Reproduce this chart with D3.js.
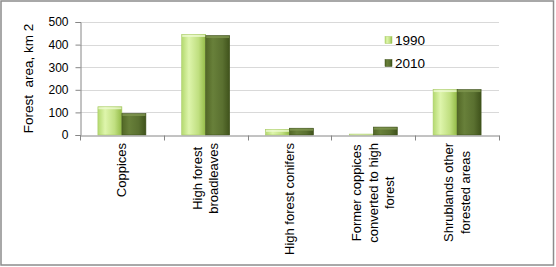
<!DOCTYPE html>
<html><head><meta charset="utf-8">
<script src="https://cdn.jsdelivr.net/npm/d3@7"></script>
<style>
html,body{margin:0;padding:0;background:#fff;}
svg{display:block;font-family:"Liberation Sans",Arial,sans-serif;}
</style></head>
<body>
<svg id="c" width="556" height="267"></svg>
<script>
const categories = [
  ["Coppices"],
  ["High forest", "broadleaves"],
  ["High forest conifers"],
  ["Former coppices", "converted to high", "forest"],
  ["Shrublands other", "forested areas"]
];
const seriesNames = ["1990", "2010"];
const values1990 = [125, 445, 25, 4, 201];
const values2010 = [95, 440, 30, 35, 201];
const yTicks = [0, 100, 200, 300, 400, 500];
const yLabel = "Forest\u00a0\u00a0area, km 2";

const svg = d3.select("#c");
const W = 556, H = 267;
const m = {l: 80, r: 57, t: 22, b: 132};
const catKeys = categories.map(c => c.join(" "));

// Gradients
const defs = svg.append("defs");
const g1 = defs.append("linearGradient").attr("id", "g1990").attr("x1", 0).attr("x2", 1).attr("y1", 0).attr("y2", 0);
g1.append("stop").attr("offset", 0).attr("stop-color", "#b4d970");
g1.append("stop").attr("offset", 0.3).attr("stop-color", "#def5ac");
g1.append("stop").attr("offset", 0.7).attr("stop-color", "#c0df80");
g1.append("stop").attr("offset", 1).attr("stop-color", "#93ba46");
const g2 = defs.append("linearGradient").attr("id", "g2010").attr("x1", 0).attr("x2", 1).attr("y1", 0).attr("y2", 0);
g2.append("stop").attr("offset", 0).attr("stop-color", "#526726");
g2.append("stop").attr("offset", 0.3).attr("stop-color", "#68803a");
g2.append("stop").attr("offset", 0.7).attr("stop-color", "#5a7030");
g2.append("stop").attr("offset", 1).attr("stop-color", "#3f521b");

// Outer border
svg.append("rect").attr("x", 1).attr("y", 1).attr("width", 552.5).attr("height", 264)
  .attr("fill", "#fff").attr("stroke", "#8c8c8c").attr("stroke-width", 1.5);

const x = d3.scaleBand().domain(catKeys).range([m.l, W - m.r]).paddingInner(0).paddingOuter(0);
const xs = d3.scaleBand().domain(seriesNames).range([0, x.bandwidth()]).paddingInner(0).paddingOuter(0.746);
const y = d3.scaleLinear().domain([0, 500]).range([H - m.b - 0, m.t]);

// gridlines
svg.append("g").selectAll("line").data(yTicks.filter(d => d > 0)).join("line")
  .attr("x1", m.l).attr("x2", W - m.r)
  .attr("y1", d => Math.round(y(d)) + 0.5).attr("y2", d => Math.round(y(d)) + 0.5)
  .attr("stroke", "#d9d9d9").attr("stroke-width", 1);

// bars
const colors = {"1990": "url(#g1990)", "2010": "url(#g2010)"};
const edge = {"1990": "#a9cc66", "2010": "#3f521b"};
const data = [];
catKeys.forEach((k, i) => {
  data.push({cat: k, s: "1990", v: values1990[i]});
  data.push({cat: k, s: "2010", v: values2010[i]});
});
const bars = svg.append("g");
bars.selectAll("rect.bar").data(data).join("rect").attr("class", "bar")
  .attr("x", d => x(d.cat) + xs(d.s))
  .attr("y", d => y(d.v))
  .attr("width", xs.bandwidth())
  .attr("height", d => y(0) - y(d.v))
  .attr("fill", d => colors[d.s])
  .attr("stroke", d => edge[d.s]).attr("stroke-width", 0.6);
// top bevel highlight
bars.selectAll("rect.top").data(data).join("rect").attr("class", "top")
  .attr("x", d => x(d.cat) + xs(d.s) + 0.5)
  .attr("y", d => y(d.v) + 0.5)
  .attr("width", xs.bandwidth() - 1)
  .attr("height", d => Math.min(2, y(0) - y(d.v)))
  .attr("fill", d => d.s === "1990" ? "#eefad2" : "#7f9650")
  .attr("opacity", 0.8);

// y axis
const yAxis = d3.axisLeft(y).tickValues(yTicks).tickSize(5).tickPadding(7);
const ya = svg.append("g").attr("transform", `translate(${m.l + 0.5},0)`).call(yAxis);
ya.select(".domain").attr("stroke", "#868686");
ya.selectAll(".tick line").attr("stroke", "#868686");
ya.selectAll(".tick text").attr("font-size", 12).attr("fill", "#000")
  .attr("font-family", "'Liberation Sans',Arial,sans-serif");

// x axis
const xAxis = d3.axisBottom(x).tickValues([]).tickSizeOuter(0);
const xa = svg.append("g").attr("transform", `translate(0,${Math.round(y(0)) + 0.5})`).call(xAxis);
xa.select(".domain").attr("stroke", "#868686");
const bounds = catKeys.map(k => x(k)).concat([x.range()[1]]);
xa.selectAll("line.b").data(bounds).join("line").attr("class", "b")
  .attr("x1", d => Math.round(d) + 0.5).attr("x2", d => Math.round(d) + 0.5)
  .attr("y1", 0).attr("y2", 5).attr("stroke", "#868686");

// category labels (rotated)
const lineH = 16.5;
const labTop = 143;
categories.forEach((lines, i) => {
  const cx = x(catKeys[i]) + x.bandwidth() / 2;
  const g = svg.append("g");
  const texts = lines.map(t => g.append("text").text(t).attr("font-size", 13).attr("fill", "#000"));
  const maxLen = d3.max(texts, t => t.node().getComputedTextLength());
  const cy = labTop + maxLen / 2;
  const n = lines.length;
  texts.forEach((t, j) => {
    const off = (j - (n - 1) / 2) * lineH;
    t.attr("text-anchor", "middle")
      .attr("transform", `translate(${cx + off + 4.5},${cy}) rotate(-90)`);
  });
});

// y label
svg.append("text").text(yLabel)
  .attr("transform", `translate(33,${(y(0) + y(500)) / 2}) rotate(-90)`)
  .attr("text-anchor", "middle").attr("font-size", 13.5).attr("fill", "#000");

// legend
const leg = svg.append("g");
seriesNames.forEach((s, i) => {
  const yy = 40 + i * 23;
  leg.append("rect").attr("x", 385).attr("y", yy - 3.5).attr("width", 7).attr("height", 7)
    .attr("fill", colors[s]).attr("stroke", edge[s]).attr("stroke-width", 0.5);
  leg.append("text").text(s).attr("x", 395).attr("y", yy + 5)
    .attr("font-size", 13.5).attr("fill", "#000");
});
</script>
</body></html>
